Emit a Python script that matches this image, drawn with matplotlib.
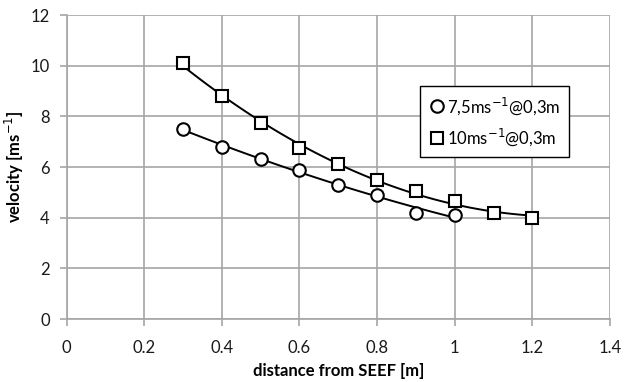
import numpy as np
import matplotlib
matplotlib.use("Agg")
import matplotlib.pyplot as plt

plt.rcParams['font.family'] = ['Lato', 'DejaVu Sans']

# measured points
x_75 = [0.3, 0.4, 0.5, 0.6, 0.7, 0.8, 0.9, 1.0]
v_75 = [7.5, 6.8, 6.3, 5.9, 5.3, 4.9, 4.2, 4.1]
x_10 = [0.3, 0.4, 0.5, 0.6, 0.7, 0.8, 0.9, 1.0, 1.1, 1.2]
v_10 = [10.1, 8.8, 7.75, 6.75, 6.1, 5.5, 5.05, 4.65, 4.2, 4.0]

labels = ['7,5ms$^{-1}$@0,3m', '10ms$^{-1}$@0,3m']
grid_col = '#a6a6a6'

fig = plt.figure(figsize=(6.31, 3.82), dpi=100)
ax = fig.add_axes([0.1054, 0.1649, 0.8613, 0.7958])

for xs, vs, mk, lab in [(x_75, v_75, 'o', labels[0]), (x_10, v_10, 's', labels[1])]:
    # 2nd order trendline through the points
    c = np.polyfit(xs, vs, 2)
    xx = np.linspace(xs[0], xs[-1], 100)
    ax.plot(xx, np.polyval(c, xx), color='black', lw=1.4, zorder=3)
    ax.plot(xs, vs, ls='none', marker=mk, ms=9, mfc='white', mec='black',
            mew=1.5, label=lab, zorder=4)

ax.set_xlim(0, 1.4)
ax.set_ylim(0, 12)
ax.set_xticks(np.arange(0, 1.41, 0.2))
ax.set_xticklabels(['0', '0.2', '0.4', '0.6', '0.8', '1', '1.2', '1.4'])
ax.set_yticks(range(0, 13, 2))
ax.grid(True, color=grid_col, lw=1.2)
ax.set_axisbelow(True)
for s in ['top', 'right']:
    ax.spines[s].set_visible(False)
for s in ['left', 'bottom']:
    ax.spines[s].set_color(grid_col)
    ax.spines[s].set_linewidth(1.2)
ax.tick_params(colors=grid_col, labelcolor='#1a1a1a', labelsize=12, length=5, width=1.2, pad=7)
ax.tick_params(axis='x', pad=10)

ax.set_xlabel('distance from SEEF [m]', fontsize=12, fontweight='bold', labelpad=5)
ax.set_ylabel('velocity [ms$^{-1}$]', fontsize=12, fontweight='bold', labelpad=3)

leg = ax.legend(loc='upper left', bbox_to_anchor=(0.651, 0.765), fontsize=12,
                frameon=True, fancybox=False, handletextpad=0.1, handlelength=1.0,
                borderpad=0.5, labelspacing=0.6, borderaxespad=0)
leg.get_frame().set_edgecolor('black')
leg.get_frame().set_linewidth(1.0)
leg.get_frame().set_alpha(1)

fig.savefig('out.png', dpi=100)
